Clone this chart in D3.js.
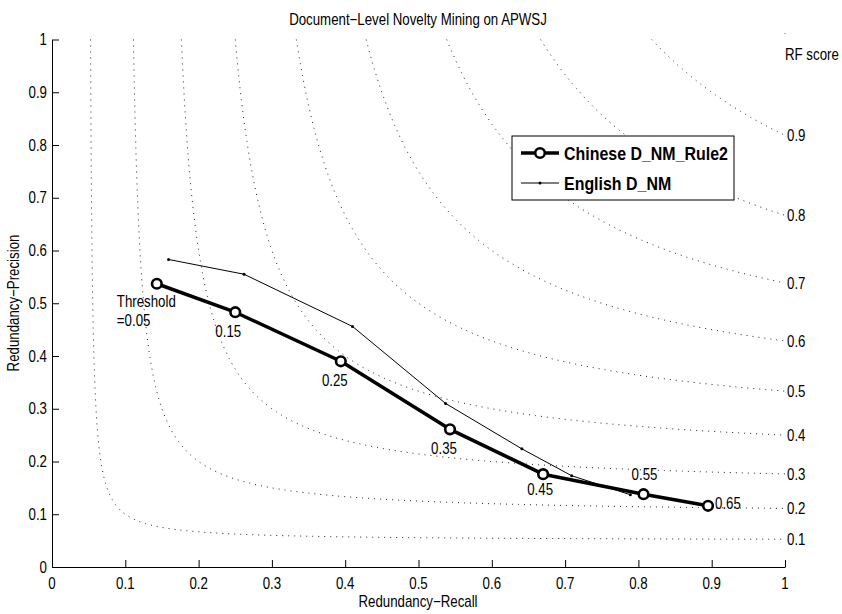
<!DOCTYPE html>
<html>
<head>
<meta charset="utf-8">
<script src="https://cdn.jsdelivr.net/npm/d3@7"></script>
<style>
  body { margin: 0; background: #fff; }
  svg { display: block; }
  text { font-family: "Liberation Sans", Arial, sans-serif; fill: #000; }
</style>
</head>
<body>
<div id="chart"></div>
<script>
// Data
const chineseRecall    = [0.143, 0.250, 0.394, 0.543, 0.670, 0.807, 0.895];
const chinesePrecision = [0.537, 0.483, 0.390, 0.261, 0.176, 0.138, 0.116];
const englishRecall    = [0.159, 0.262, 0.410, 0.537, 0.641, 0.709, 0.789];
const englishPrecision = [0.583, 0.555, 0.456, 0.310, 0.224, 0.173, 0.137];
const thresholdLabels  = ['=0.05', '0.15', '0.25', '0.35', '0.45', '0.55', '0.65'];
const rfLevels = [0.1, 0.2, 0.3, 0.4, 0.5, 0.6, 0.7, 0.8, 0.9];
const axisTicks = [0, 0.1, 0.2, 0.3, 0.4, 0.5, 0.6, 0.7, 0.8, 0.9, 1];

// label placement relative to each point [dx, dy, anchor]
const labelOffsets = [
    [-40, 42, 'start'],
    [-7, 25, 'middle'],
    [-6, 25, 'middle'],
    [-6, 25, 'middle'],
    [-3, 21, 'middle'],
    [1, -14, 'middle'],
    [7, 3, 'start']
];

const width = 842, height = 614;
const SX = 0.83; // MATLAB text is narrower than Liberation Sans

const svg = d3.select('#chart').append('svg')
    .attr('width', width)
    .attr('height', height);

const x = d3.scaleLinear().domain([0, 1]).range([52, 785]);
const y = d3.scaleLinear().domain([0, 1]).range([567, 39.5]);

function addText(g, px, py, str, opts = {}) {
    const rot = opts.rotate ? ` rotate(${opts.rotate})` : '';
    const sx = opts.sx || SX;
    return g.append('text')
        .attr('transform', `translate(${px},${py})${rot} scale(${sx},1)`)
        .attr('text-anchor', opts.anchor || 'start')
        .attr('dy', opts.dy || null)
        .style('font-size', (opts.size || 16) + 'px')
        .style('font-weight', opts.bold ? 'bold' : null)
        .text(str);
}

// RF score contours: 2PR/(P+R) = f  ->  P = fR / (2R - f)
const contour = d3.line().x(d => x(d[0])).y(d => y(d[1]));
const contourG = svg.append('g');
rfLevels.forEach(f => {
    const r0 = f / (2 - f);
    const pts = d3.range(0, 201).map(i => {
        const r = r0 + (1 - r0) * Math.pow(i / 200, 1.6);
        return [r, f * r / (2 * r - f)];
    });
    contourG.append('path')
        .attr('d', contour(pts))
        .attr('fill', 'none')
        .attr('stroke', '#222')
        .attr('stroke-width', 1)
        .attr('stroke-dasharray', '1 5');
    addText(contourG, x(1) + 2, y(f / (2 - f)), d3.format('.1f')(f), { dy: '0.35em' });
});
addText(svg, x(1), 60, 'RF score', {});
svg.append('circle').attr('cx', x(1)).attr('cy', y(1) - 6).attr('r', 0.6).attr('fill', '#555');

// Axes
const xAxis = svg.append('g')
    .attr('transform', `translate(0,${y(0)})`)
    .call(d3.axisBottom(x).tickValues(axisTicks).tickSize(-7).tickSizeOuter(0).tickFormat(d3.format('~g')));
xAxis.selectAll('text').remove();
axisTicks.forEach(t => addText(xAxis, x(t), 22, d3.format('~g')(t), { anchor: 'middle' }));

const yAxis = svg.append('g')
    .attr('transform', `translate(${x(0)},0)`)
    .call(d3.axisLeft(y).tickValues(axisTicks).tickSize(-7).tickSizeOuter(0).tickFormat(d3.format('~g')));
yAxis.selectAll('text').remove();
axisTicks.forEach(t => addText(yAxis, -5, y(t), d3.format('~g')(t), { anchor: 'end', dy: '0.35em' }));

svg.selectAll('.domain, .tick line').attr('stroke', '#000').attr('stroke-width', 1);

addText(svg, 418, 607, 'Redundancy\u2212Recall', { anchor: 'middle' });
addText(svg, 19, 303, 'Redundancy\u2212Precision', { anchor: 'middle', rotate: -90 });
addText(svg, 418, 25, 'Document\u2212Level Novelty Mining on APWSJ', { anchor: 'middle' });

// Series
const line = d3.line().x(d => x(d[0])).y(d => y(d[1]));
const english = englishRecall.map((r, i) => [r, englishPrecision[i]]);
const chinese = chineseRecall.map((r, i) => [r, chinesePrecision[i]]);

svg.append('path')
    .attr('d', line(english))
    .attr('fill', 'none')
    .attr('stroke', '#000')
    .attr('stroke-width', 1);
svg.append('g').selectAll('circle')
    .data(english)
    .join('circle')
    .attr('cx', d => x(d[0]))
    .attr('cy', d => y(d[1]))
    .attr('r', 1.5)
    .attr('fill', '#000');

svg.append('path')
    .attr('d', line(chinese))
    .attr('fill', 'none')
    .attr('stroke', '#000')
    .attr('stroke-width', 3.5)
    .attr('stroke-linejoin', 'round');
svg.append('g').selectAll('circle')
    .data(chinese)
    .join('circle')
    .attr('cx', d => x(d[0]))
    .attr('cy', d => y(d[1]))
    .attr('r', 4.8)
    .attr('fill', '#fff')
    .attr('stroke', '#000')
    .attr('stroke-width', 2.6);

// threshold labels
const labelG = svg.append('g');
chinese.forEach((d, i) => {
    const [dx, dy, anchor] = labelOffsets[i];
    addText(labelG, x(d[0]) + dx, y(d[1]) + dy, thresholdLabels[i], { anchor });
});
addText(labelG, x(chinese[0][0]) + labelOffsets[0][0], y(chinese[0][1]) + 23, 'Threshold', {});

// Legend
const legend = svg.append('g').attr('transform', 'translate(512,136)');
legend.append('rect')
    .attr('width', 222)
    .attr('height', 64)
    .attr('fill', '#fff')
    .attr('stroke', '#000')
    .attr('stroke-width', 1);
legend.append('line').attr('x1', 9).attr('x2', 47).attr('y1', 17).attr('y2', 17)
    .attr('stroke', '#000').attr('stroke-width', 3.5);
legend.append('circle').attr('cx', 28).attr('cy', 17).attr('r', 4.8)
    .attr('fill', '#fff').attr('stroke', '#000').attr('stroke-width', 2.6);
addText(legend, 52, 17, 'Chinese D_NM_Rule2', { bold: true, size: 19, sx: 0.84, dy: '0.36em' });
legend.append('line').attr('x1', 9).attr('x2', 47).attr('y1', 47).attr('y2', 47)
    .attr('stroke', '#000').attr('stroke-width', 1);
legend.append('circle').attr('cx', 28).attr('cy', 47).attr('r', 1.5).attr('fill', '#000');
addText(legend, 52, 47, 'English D_NM', { bold: true, size: 19, sx: 0.84, dy: '0.36em' });
</script>
</body>
</html>
